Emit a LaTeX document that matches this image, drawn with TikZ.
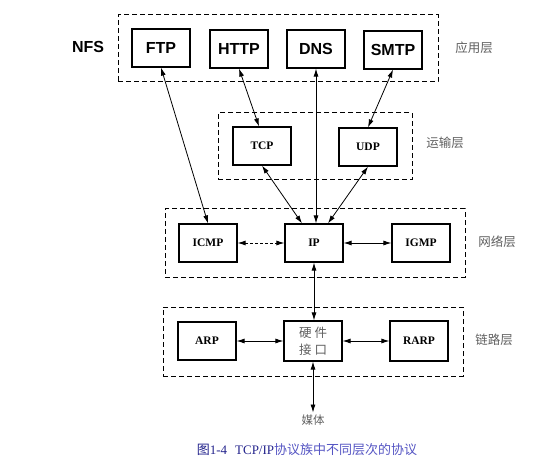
\documentclass[tikz,border=0pt]{standalone}
\usepackage{fontspec}
\setmainfont{Liberation Serif}
\newfontfamily\sansfnt{Liberation Sans}
\newfontfamily\cjk{Noto Sans CJK SC}
\usetikzlibrary{arrows.meta}
\definecolor{capdark}{RGB}{35,35,140}
\definecolor{caplight}{RGB}{85,85,195}
\definecolor{lblgrey}{RGB}{95,95,95}
\begin{document}
\begin{tikzpicture}[x=1pt,y=-1pt,
 box/.style={draw,line width=1.2pt,minimum width=58pt,minimum height=38pt,inner sep=0pt,fill=white},
 appbox/.style={box,font=\sansfnt\bfseries\fontsize{16}{18}\selectfont},
 lowbox/.style={box,font=\bfseries\fontsize{11.5}{13}\selectfont},
 layer/.style={draw,dash pattern=on 5pt off 3pt,line width=1pt,inner sep=0pt},
 lbl/.style={font=\cjk\fontsize{12.5}{14}\selectfont,text=lblgrey},
 arr/.style={{Latex[length=8pt,width=5pt]}-{Latex[length=8pt,width=5pt]},line width=0.8pt}
]
\useasboundingbox (0,0) rectangle (546,465);
% layers
\node[layer,minimum width=320pt,minimum height=67pt] (applayer) at (278,48.5) {};
\node[layer,minimum width=194pt,minimum height=67pt] (translayer) at (315,146.5) {};
\node[layer,minimum width=300pt,minimum height=68pt] (netlayer) at (315,243) {};
\node[layer,minimum width=300pt,minimum height=69pt] (linklayer) at (313,341.5) {};
% layer labels
\node[lbl] (lapp) at (474,48) {应用层};
\node[lbl] (ltrans) at (445,143) {运输层};
\node[lbl] (lnet) at (497,242) {网络层};
\node[lbl] (llink) at (494,340) {链路层};
\node[font=\sansfnt\bfseries\fontsize{16}{18}\selectfont] (NFS) at (88,47) {NFS};
% application
\node[appbox] (FTP) at (161,48) {FTP};
\node[appbox] (HTTP) at (239,49) {HTTP};
\node[appbox] (DNS) at (316,49) {DNS};
\node[appbox] (SMTP) at (393,50) {SMTP};
% transport
\node[lowbox] (TCP) at (262,146) {TCP};
\node[lowbox] (UDP) at (368,147) {UDP};
% network
\node[lowbox] (ICMP) at (208,243) {ICMP};
\node[lowbox] (IP) at (314,243) {IP};
\node[lowbox] (IGMP) at (421,243) {IGMP};
% link
\node[lowbox] (ARP) at (207,341) {ARP};
\node[lowbox,minimum height=40pt,font=\cjk\fontsize{12.5}{17}\selectfont,text=lblgrey,align=center] (HW) at (313,341) {硬\hspace{3pt}件\\接\hspace{3pt}口};
\node[lowbox,minimum height=40pt] (RARP) at (419,341) {RARP};
% media
\node[font=\cjk\fontsize{11.5}{13}\selectfont,text=lblgrey,inner sep=2pt] (media) at (313,420) {媒体};
% caption
\node[font=\fontsize{13}{15}\selectfont] (caption) at (307,450) {{\color{capdark}{\cjk 图}1-4\hspace{8pt}TCP/IP}{\color{caplight}\cjk 协议族中不同层次的协议}};
% connectors
\draw[arr] (FTP.south) -- (ICMP.north);
\draw[arr] (HTTP.south) -- ([xshift=-3pt]TCP.north);
\draw[arr] (DNS.south) -- (DNS.south |- IP.north);
\draw[arr] (SMTP.south) -- (UDP.north);
\draw[arr] (TCP.south) -- ([xshift=-12pt]IP.north);
\draw[arr] (UDP.south) -- ([xshift=14pt]IP.north);
\draw[arr,densely dashed] (ICMP.east) -- (IP.west);
\draw[arr] (IP.east) -- (IGMP.west);
\draw[arr] (IP.south) -- (IP.south |- HW.north);
\draw[arr] (ARP.east) -- (HW.west);
\draw[arr] (HW.east) -- (RARP.west);
\draw[arr] (HW.south) -- (media.north);
\end{tikzpicture}
\end{document}
